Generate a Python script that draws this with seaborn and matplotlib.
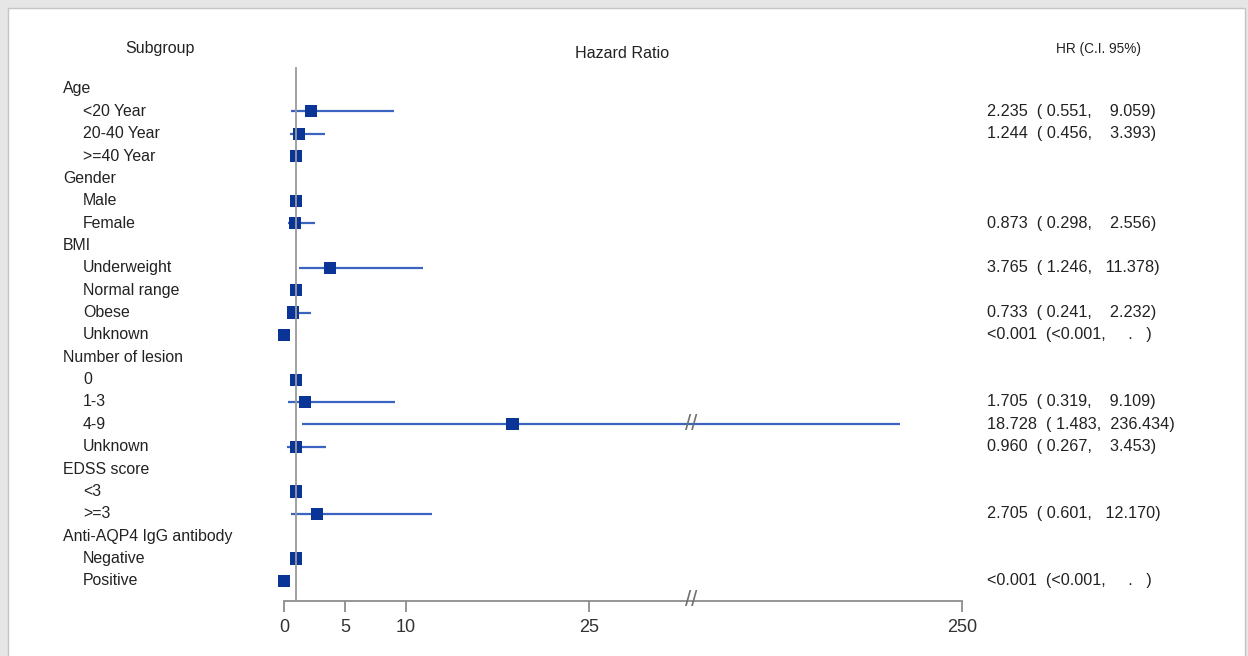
import numpy as np
import pandas as pd
import seaborn as sns
import matplotlib
matplotlib.use("Agg")
from matplotlib import pyplot as plt
from matplotlib import transforms
from matplotlib.patches import Rectangle

# rows of the forest plot, top to bottom
labels = ["Age", "<20 Year", "20-40 Year", ">=40 Year",
          "Gender", "Male", "Female",
          "BMI", "Underweight", "Normal range", "Obese", "Unknown",
          "Number of lesion", "0", "1-3", "4-9", "Unknown",
          "EDSS score", "<3", ">=3",
          "Anti-AQP4 IgG antibody", "Negative", "Positive"]
is_header = [True, False, False, False,
             True, False, False,
             True, False, False, False, False,
             True, False, False, False, False,
             True, False, False,
             True, False, False]

# hazard ratio and 95% CI (nan = no estimate / no bound drawn)
hr = [np.nan, 2.235, 1.244, 1.0,
      np.nan, 1.0, 0.873,
      np.nan, 3.765, 1.0, 0.733, 0.001,
      np.nan, 1.0, 1.705, 18.728, 0.960,
      np.nan, 1.0, 2.705,
      np.nan, 1.0, 0.001]
lo = [np.nan, 0.551, 0.456, np.nan,
      np.nan, np.nan, 0.298,
      np.nan, 1.246, np.nan, 0.241, np.nan,
      np.nan, np.nan, 0.319, 1.483, 0.267,
      np.nan, np.nan, 0.601,
      np.nan, np.nan, np.nan]
hi = [np.nan, 9.059, 3.393, np.nan,
      np.nan, np.nan, 2.556,
      np.nan, 11.378, np.nan, 2.232, np.nan,
      np.nan, np.nan, 9.109, 236.434, 3.453,
      np.nan, np.nan, 12.170,
      np.nan, np.nan, np.nan]
hr_text = ["", "2.235  ( 0.551,    9.059)", "1.244  ( 0.456,    3.393)", "",
           "", "", "0.873  ( 0.298,    2.556)",
           "", "3.765  ( 1.246,   11.378)", "", "0.733  ( 0.241,    2.232)",
           "<0.001  (<0.001,     .   )",
           "", "", "1.705  ( 0.319,    9.109)", "18.728  ( 1.483,  236.434)",
           "0.960  ( 0.267,    3.453)",
           "", "", "2.705  ( 0.601,   12.170)",
           "", "", "<0.001  (<0.001,     .   )"]

xticks = [0, 5, 10, 25, 250]

df = pd.DataFrame({"label": labels, "header": is_header, "hr": hr,
                   "lo": lo, "hi": hi, "text": hr_text})
df["row"] = np.arange(len(df))

# broken axis: linear up to the break, squeezed after it
BREAK = 33.4
knots_x = [0, BREAK, 240, 250]
knots_t = [0, BREAK, 50.8, 55.6]


def forward(x):
    return np.interp(x, knots_x, knots_t)


def inverse(t):
    return np.interp(t, knots_t, knots_x)


sns.set_style("white")
plt.rcParams["font.family"] = ["Liberation Sans", "DejaVu Sans"]

W, H = 1248, 656
fig = plt.figure(figsize=(W / 100, H / 100), dpi=100, facecolor="#e6e6e6")
fig.patches.append(Rectangle((8 / W, -0.01), (1245 - 8) / W, (H - 8) / H + 0.01,
                             transform=fig.transFigure, facecolor="white",
                             edgecolor="#c4c4c4", lw=1, zorder=-1))

ax = fig.add_axes([284 / W, 1 - 601 / H, (962 - 284) / W, (601 - 66.6) / H])
ax.set_facecolor("none")
ax.set_xscale("function", functions=(forward, inverse))
ax.set_xlim(0, 250)
ax.set_ylim(22.9, -1.0)

ci = df.dropna(subset=["lo"])
ax.hlines(ci["row"], ci["lo"], ci["hi"], color="#3a64c0", lw=1.6, zorder=2)
pts = df.dropna(subset=["hr"])
sns.scatterplot(data=pts, x="hr", y="row", marker="s", s=78, color="#0a3596",
                edgecolor="none", ax=ax, zorder=3, clip_on=False, legend=False)
ax.axvline(1, color="#9a9a9a", lw=1.3, zorder=4)

# axis styling
for side in ["top", "right", "left"]:
    ax.spines[side].set_visible(False)
ax.spines["bottom"].set_color("#8c8c8c")
ax.spines["bottom"].set_linewidth(1.3)
ax.set_xticks(xticks)
ax.set_xticklabels([str(t) for t in xticks])
ax.xaxis.set_minor_locator(matplotlib.ticker.NullLocator())
ax.tick_params(axis="x", direction="out", length=8, width=1.3, color="#8c8c8c",
               labelsize=13, labelcolor="#333333", pad=5, bottom=True)
ax.set_yticks([])
ax.set_xlabel("")
ax.set_ylabel("")

# break marks on the axis and on the long CI line
row_49 = df.loc[df["hi"] > BREAK, "row"].iloc[0]
for yy in [22.9, row_49]:
    ax.text(BREAK, yy, "//", ha="center", va="center", fontsize=16,
            color="#707070", clip_on=False, zorder=5)

# text columns
tf = transforms.blended_transform_factory(fig.transFigure, ax.transData)
for _, r in df.iterrows():
    x0 = 63 / W if r["header"] else 83 / W
    ax.text(x0, r["row"], r["label"], transform=tf, ha="left", va="center",
            fontsize=11.4, color="#222222")
    if r["text"]:
        ax.text(987 / W, r["row"], r["text"], transform=tf, ha="left",
                va="center", fontsize=11.7, color="#222222")

fig.text(160 / W, 1 - 49 / H, "Subgroup", ha="center", va="center",
         fontsize=11.5, color="#222222")
fig.text(622 / W, 1 - 54 / H, "Hazard Ratio", ha="center", va="center",
         fontsize=11.6, color="#222222")
fig.text(1098 / W, 1 - 49 / H, "HR (C.I. 95%)", ha="center", va="center",
         fontsize=9.8, color="#222222")

fig.savefig("out.png", dpi=100, facecolor=fig.get_facecolor())
